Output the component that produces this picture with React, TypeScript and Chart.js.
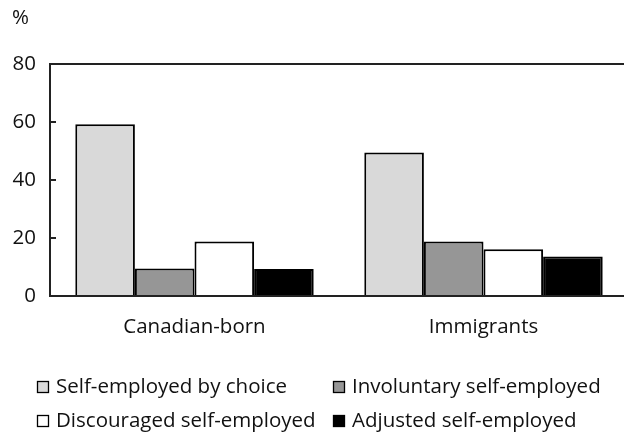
import React, { useEffect, useRef } from "react";
import { Chart, registerables } from "chart.js";

Chart.register(...registerables);

const categories = ["Canadian-born", "Immigrants"];
const seriesNames = [
  "Self-employed by choice",
  "Involuntary self-employed",
  "Discouraged self-employed",
  "Adjusted self-employed",
];
const byChoice = [59.2, 49.5];
const involuntary = [9.5, 18.8];
const discouraged = [18.8, 16.1];
const adjusted = [9.3, 13.6];
const seriesColors = ["#d9d9d9", "#969696", "#ffffff", "#000000"];
const yTicks = [0, 20, 40, 60, 80];
const unitLabel = "%";

const FONT = "'Open Sans', sans-serif";
const FONT_SIZE = 20.5;
const TEXT_COLOR = "#111";

// Draws the unit label, inward y tick marks and the two-column legend.
const decorations = {
  id: "decorations",
  afterDraw(chart: any) {
    const { ctx, chartArea } = chart;
    const y = chart.scales.y;
    ctx.save();
    ctx.fillStyle = TEXT_COLOR;
    ctx.font = `${FONT_SIZE}px ${FONT}`;
    ctx.textBaseline = "middle";
    ctx.textAlign = "left";
    ctx.fillText(unitLabel, 12, 18);

    ctx.strokeStyle = "#222";
    ctx.lineWidth = 2;
    y.ticks.forEach((t: any) => {
      const py = y.getPixelForValue(t.value);
      ctx.beginPath();
      ctx.moveTo(chartArea.left, py);
      ctx.lineTo(chartArea.left + 6, py);
      ctx.stroke();
    });

    const colX = [37, 333];
    const rowY = [387, 421];
    chart.data.datasets.forEach((ds: any, i: number) => {
      const cx = colX[i % 2];
      const cy = rowY[Math.floor(i / 2)];
      ctx.fillStyle = ds.backgroundColor;
      ctx.fillRect(cx, cy - 6, 12, 12);
      ctx.strokeStyle = "#000";
      ctx.lineWidth = 1.3;
      ctx.strokeRect(cx + 0.5, cy - 5.5, 11, 11);
      ctx.fillStyle = TEXT_COLOR;
      ctx.font = `${FONT_SIZE}px ${FONT}`;
      ctx.textBaseline = "middle";
      ctx.fillText(ds.label, cx + 19, cy);
    });
    ctx.restore();
  },
};

export default function App() {
  const canvasRef = useRef<HTMLCanvasElement | null>(null);

  useEffect(() => {
    const canvas = canvasRef.current;
    if (!canvas) return;
    const values = [byChoice, involuntary, discouraged, adjusted];
    const chart = new Chart(canvas, {
      type: "bar",
      data: {
        labels: categories,
        datasets: values.map((v, i) => ({
          label: seriesNames[i],
          data: v,
          backgroundColor: seriesColors[i],
          borderColor: "#000",
          borderWidth: 2,
          categoryPercentage: 0.825,
          barPercentage: 1,
        })),
      },
      options: {
        responsive: false,
        animation: false,
        devicePixelRatio: 1,
        layout: { padding: { top: 64, left: 0, right: 2, bottom: 0 } },
        plugins: {
          legend: { display: false },
          tooltip: { enabled: false },
        },
        scales: {
          x: {
            afterFit: (s: any) => {
              s.height = 142;
            },
            grid: { display: true, drawOnChartArea: false, drawTicks: false, color: "transparent" },
            border: { display: true, color: "#222", width: 2 },
            ticks: {
              padding: 19,
              color: TEXT_COLOR,
              font: { family: FONT, size: FONT_SIZE },
            },
          },
          y: {
            min: 0,
            max: 80,
            afterFit: (s: any) => {
              s.width = 50;
            },
            afterBuildTicks: (s: any) => {
              s.ticks = yTicks.map((v) => ({ value: v }));
            },
            grid: {
              drawTicks: false,
              color: (c: any) => (c.tick && c.tick.value === 80 ? "#222" : "transparent"),
              lineWidth: 2,
            },
            border: { display: true, color: "#222", width: 2 },
            ticks: {
              padding: 14,
              color: TEXT_COLOR,
              font: { family: FONT, size: FONT_SIZE },
            },
          },
        },
      },
      plugins: [decorations],
    });
    return () => chart.destroy();
  }, []);

  return (
    <div style={{ position: "fixed", left: 0, top: 0, width: 630, height: 438, background: "#fff" }}>
      <canvas ref={canvasRef} width={630} height={438} style={{ display: "block" }} />
    </div>
  );
}
